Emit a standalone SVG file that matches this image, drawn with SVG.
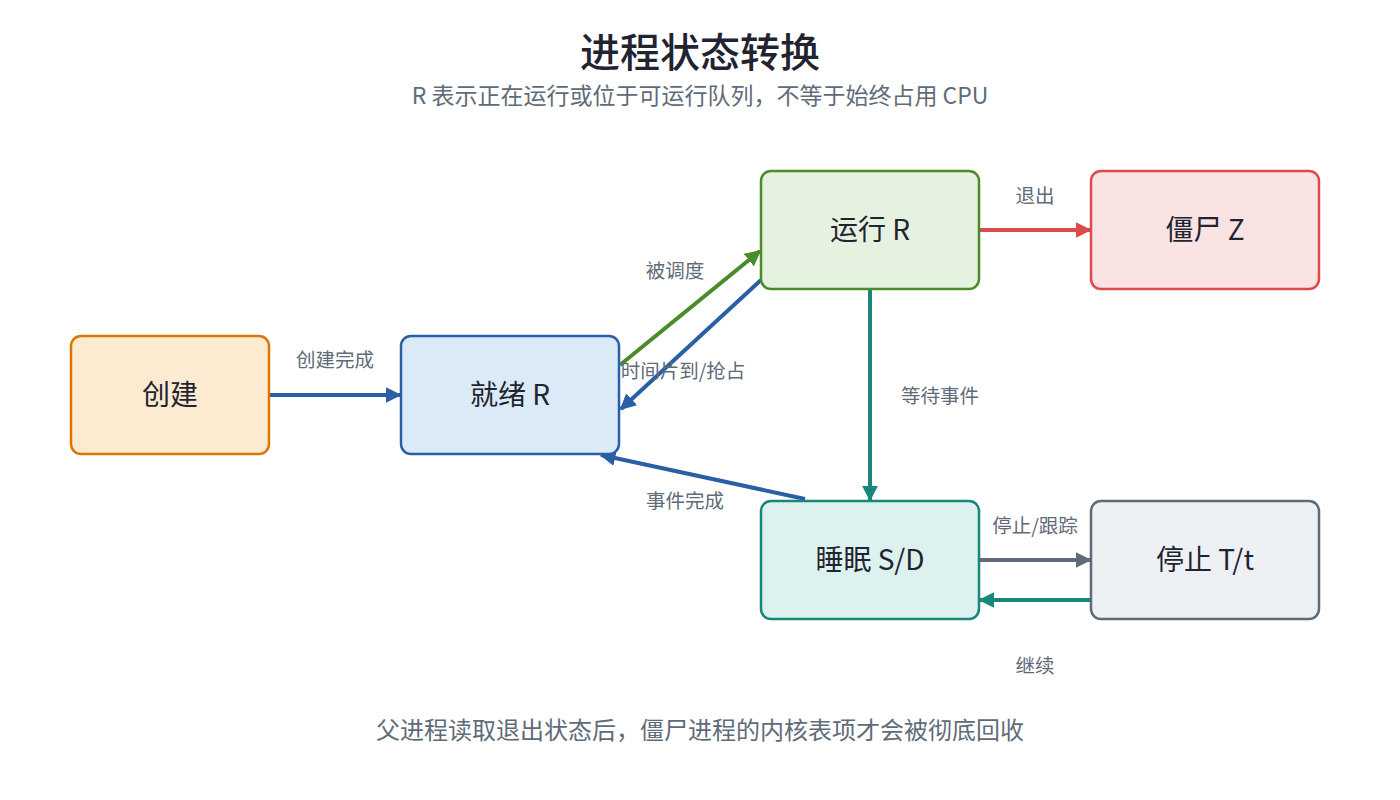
<svg xmlns="http://www.w3.org/2000/svg" width="1400" height="800" viewBox="0 0 1400 800">
<style>
text{font-family:"Noto Sans CJK SC","Noto Sans",sans-serif}
.title{font-size:40px;fill:#1f2430;font-weight:500}
.sub{font-size:23px;fill:#5f6b78}
.foot{font-size:24px;fill:#5f6b78}
.node{font-size:28px;fill:#1f2430}
.lbl{font-size:19.5px;fill:#5f6b78}
.box{stroke-width:2.5}
.c{fill:none;stroke-width:4}
</style>
<defs>
<marker id="ab" viewBox="0 0 10 10" refX="9" refY="5" markerWidth="4" markerHeight="4" orient="auto" markerUnits="strokeWidth"><path d="M0,0L10,5L0,10z" fill="#2a5fa5"/></marker>
<marker id="ag" viewBox="0 0 10 10" refX="9" refY="5" markerWidth="4" markerHeight="4" orient="auto" markerUnits="strokeWidth"><path d="M0,0L10,5L0,10z" fill="#4a8c2a"/></marker>
<marker id="at" viewBox="0 0 10 10" refX="9" refY="5" markerWidth="4" markerHeight="4" orient="auto" markerUnits="strokeWidth"><path d="M0,0L10,5L0,10z" fill="#16877a"/></marker>
<marker id="ar" viewBox="0 0 10 10" refX="9" refY="5" markerWidth="4" markerHeight="4" orient="auto" markerUnits="strokeWidth"><path d="M0,0L10,5L0,10z" fill="#dc4a4a"/></marker>
<marker id="ay" viewBox="0 0 10 10" refX="9" refY="5" markerWidth="4" markerHeight="4" orient="auto" markerUnits="strokeWidth"><path d="M0,0L10,5L0,10z" fill="#5f6b78"/></marker>
</defs>
<rect width="1400" height="800" fill="#ffffff"/>
<text class="title" x="700" y="67" text-anchor="middle">进程状态转换</text>
<text class="sub" x="700" y="104" text-anchor="middle">R 表示正在运行或位于可运行队列，不等于始终占用 CPU</text>

<g id="connectors">
<line class="c" x1="269" y1="395" x2="400" y2="395" stroke="#2a5fa5" stroke-width="3.5" marker-end="url(#ab)"/>
<line class="c" x1="620" y1="365" x2="760" y2="251" stroke="#4a8c2a" marker-end="url(#ag)"/>
<line class="c" x1="761" y1="280" x2="621" y2="409" stroke="#2a5fa5" stroke-width="3" marker-end="url(#ab)"/>
<line class="c" x1="870" y1="289" x2="870" y2="500" stroke="#16877a" marker-end="url(#at)"/>
<line class="c" x1="979" y1="230" x2="1090" y2="230" stroke="#dc4a4a" marker-end="url(#ar)"/>
<line class="c" x1="805" y1="499" x2="601" y2="455" stroke="#2a5fa5" marker-end="url(#ab)"/>
<line class="c" x1="979" y1="560" x2="1090" y2="560" stroke="#5f6b78" marker-end="url(#ay)"/>
<line class="c" x1="1091" y1="600" x2="980" y2="600" stroke="#16877a" marker-end="url(#at)"/>
<text class="lbl" x="335" y="367" text-anchor="middle">创建完成</text>
<text class="lbl" x="675" y="278" text-anchor="middle">被调度</text>
<text class="lbl" x="683" y="378" text-anchor="middle">时间片到/抢占</text>
<text class="lbl" x="940" y="403" text-anchor="middle">等待事件</text>
<text class="lbl" x="1035" y="203" text-anchor="middle">退出</text>
<text class="lbl" x="685" y="508" text-anchor="middle">事件完成</text>
<text class="lbl" x="1035" y="533" text-anchor="middle">停止/跟踪</text>
<text class="lbl" x="1035" y="673" text-anchor="middle">继续</text>
</g>

<g id="node-create">
<rect class="box" x="71" y="336" width="198" height="118" rx="10" fill="#fcebd0" stroke="#d97706"/>
<text class="node" x="170" y="405" text-anchor="middle">创建</text>
</g>
<g id="node-ready">
<rect class="box" x="401" y="336" width="218" height="118" rx="10" fill="#dbeaf7" stroke="#2a5fa5"/>
<text class="node" x="510" y="405" text-anchor="middle">就绪 R</text>
</g>
<g id="node-running">
<rect class="box" x="761" y="171" width="218" height="118" rx="10" fill="#e5f2df" stroke="#4a8c2a"/>
<text class="node" x="870" y="240" text-anchor="middle">运行 R</text>
</g>
<g id="node-zombie">
<rect class="box" x="1091" y="171" width="228" height="118" rx="10" fill="#f9e3e3" stroke="#dc4a4a"/>
<text class="node" x="1205" y="240" text-anchor="middle">僵尸 Z</text>
</g>
<g id="node-sleep">
<rect class="box" x="761" y="501" width="218" height="118" rx="10" fill="#ddf2ef" stroke="#16877a"/>
<text class="node" x="870" y="570" text-anchor="middle">睡眠 S/D</text>
</g>
<g id="node-stopped">
<rect class="box" x="1091" y="501" width="228" height="118" rx="10" fill="#eef1f4" stroke="#5f6b78"/>
<text class="node" x="1205" y="570" text-anchor="middle">停止 T/t</text>
</g>

<text class="foot" x="700" y="739" text-anchor="middle">父进程读取退出状态后，僵尸进程的内核表项才会被彻底回收</text>
</svg>
